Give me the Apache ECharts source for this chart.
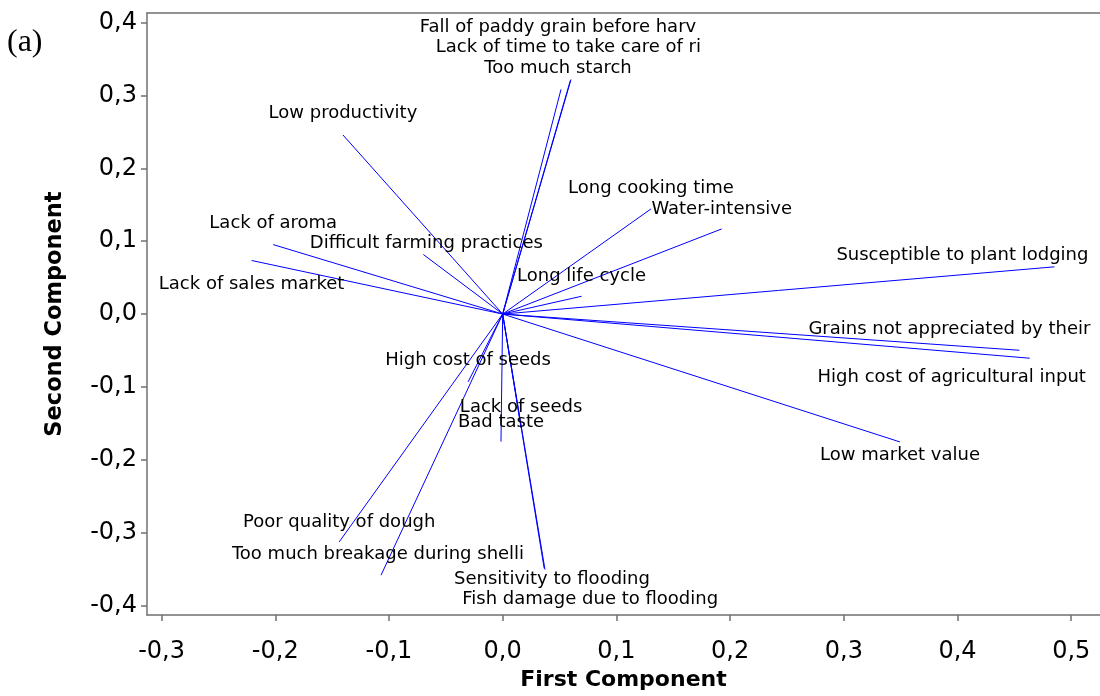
<!DOCTYPE html>
<html>
<head>
<meta charset="utf-8">
<script src="https://cdn.jsdelivr.net/npm/echarts@6/dist/echarts.min.js"></script>
<style>
html,body{margin:0;padding:0;background:#fff;}
#chart{width:1100px;height:696px;}
</style>
</head>
<body>
<div id="chart"></div>
<script>
// Variable names
const names = [
  "Low productivity", "Lack of aroma", "Lack of sales market", "Difficult farming practices",
  "Fall of paddy grain before harv", "Lack of time to take care of ri", "Too much starch",
  "Long cooking time", "Water-intensive", "Long life cycle", "Susceptible to plant lodging",
  "Grains not appreciated by their", "High cost of agricultural input", "Low market value",
  "High cost of seeds", "Lack of seeds", "Bad taste", "Poor quality of dough",
  "Too much breakage during shelli", "Sensitivity to flooding", "Fish damage due to flooding"
];
// First component loadings
const pc1 = [
  -0.1405, -0.2018, -0.2208, -0.0698,
  0.0601, 0.0595, 0.0513,
  0.1304, 0.1926, 0.0693, 0.4852,
  0.4544, 0.4635, 0.3494,
  -0.0304, 0.0162, -0.0015, -0.1438,
  -0.1070, 0.0372, 0.0365
];
// Second component loadings
const pc2 = [
  0.2458, 0.0953, 0.0735, 0.0817,
  0.3219, 0.3205, 0.3083,
  0.1442, 0.1168, 0.0244, 0.0648,
  -0.0497, -0.0606, -0.1755,
  -0.0930, -0.1564, -0.1750, -0.3127,
  -0.3584, -0.3506, -0.3490
];
const xTicks = [-0.3, -0.2, -0.1, 0.0, 0.1, 0.2, 0.3, 0.4, 0.5];
const yTicks = [-0.4, -0.3, -0.2, -0.1, 0.0, 0.1, 0.2, 0.3, 0.4];

// label placement (pixel offsets of label centre from the loading end point)
const labelOffsets = [
  [0,-22],[0,-21],[0,24],[3,-11],
  [-13,-52],[-2,-33],[-3,-21],
  [0,-21],[0,-20],[0,-20],[-92,-11],
  [-70,-21],[-78,19],[0,13],
  [0,-21],[0,-21],[0,-19],[0,-20],
  [-3,-21],[7,10],[46,31]
];

const fmt = v => v.toFixed(1).replace('.', ',');

const lineData = names.map((n, i) => ({ coords: [[0, 0], [pc1[i], pc2[i]]] }));
const pointData = names.map((n, i) => [pc1[i], pc2[i], i]);

const axisColor = '#707070';
const chart = echarts.init(document.getElementById('chart'), null, { renderer: 'canvas' });
chart.setOption({
  animation: false,
  backgroundColor: '#fff',
  textStyle: { fontFamily: 'DejaVu Sans' },
  grid: { left: 147, top: 13, right: 0, bottom: 79 },
  graphic: [{
    type: 'text', left: 7, top: 27,
    style: { text: '(a)', font: '32px "Liberation Serif"', fill: '#000' }
  }],
  xAxis: [{
    type: 'value', min: -0.3128, max: 0.5253,
    splitLine: { show: false },
    axisLine: { show: true, onZero: false, lineStyle: { color: axisColor, width: 1.5 } },
    axisTick: { show: true, length: 6, customValues: xTicks, lineStyle: { color: axisColor, width: 1.5 } },
    axisLabel: { customValues: xTicks, formatter: fmt, color: '#000', fontSize: 24, margin: 25, fontFamily: 'DejaVu Sans' },
    name: 'First Component', nameLocation: 'middle', nameGap: 50,
    nameTextStyle: { fontSize: 22, fontWeight: 'bold', color: '#000', fontFamily: 'DejaVu Sans' }
  }, {
    type: 'value', position: 'top', min: -0.3128, max: 0.5253,
    splitLine: { show: false },
    axisLine: { show: true, onZero: false, lineStyle: { color: axisColor, width: 1.5 } },
    axisTick: { show: false }, axisLabel: { show: false }
  }],
  yAxis: {
    type: 'value', min: -0.4131, max: 0.4131,
    splitLine: { show: false },
    axisLine: { show: true, onZero: false, lineStyle: { color: axisColor, width: 1.5 } },
    axisTick: { show: true, length: 6, customValues: yTicks, lineStyle: { color: axisColor, width: 1.5 } },
    axisLabel: { customValues: yTicks, formatter: fmt, color: '#000', fontSize: 24, margin: 10, fontFamily: 'DejaVu Sans' },
    name: 'Second Component', nameLocation: 'middle', nameGap: 80,
    nameTextStyle: { fontSize: 22.5, fontWeight: 'bold', color: '#000', fontFamily: 'DejaVu Sans' }
  },
  series: [{
    type: 'lines',
    coordinateSystem: 'cartesian2d',
    xAxisIndex: 0, yAxisIndex: 0,
    polyline: false,
    silent: true,
    z: 2,
    lineStyle: { color: '#0000ff', width: 1, opacity: 1 },
    data: lineData
  }, {
    type: 'custom',
    xAxisIndex: 0, yAxisIndex: 0,
    z: 3,
    silent: true,
    renderItem: function (params, api) {
      const idx = api.value(2);
      const p = api.coord([api.value(0), api.value(1)]);
      const off = labelOffsets[idx];
      return {
        type: 'text',
        x: p[0] + off[0],
        y: p[1] + off[1],
        style: {
          text: names[idx],
          fill: '#000',
          font: '18px "DejaVu Sans"',
          align: 'center',
          verticalAlign: 'middle'
        }
      };
    },
    encode: { x: 0, y: 1 },
    data: pointData
  }]
});
</script>
</body>
</html>
